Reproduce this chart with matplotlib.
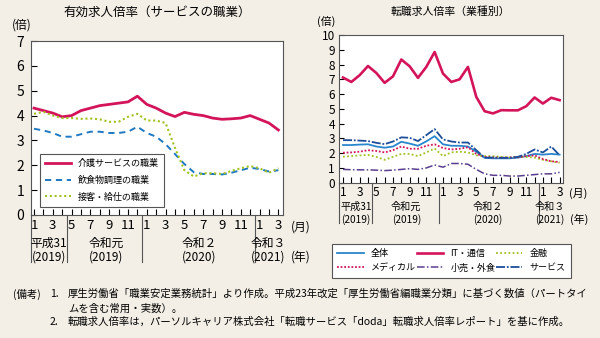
import matplotlib
matplotlib.use("Agg")
import matplotlib.pyplot as plt
import matplotlib.transforms as mtransforms

plt.rcParams['font.family'] = ['Noto Sans CJK JP', 'DejaVu Sans']

BG = '#f3efe6'

# ---------------- data ----------------
months = list(range(27))  # Jan 2019 .. Mar 2021
month_labels = ['1', '', '3', '', '5', '', '7', '', '9', '', '11', '',
                '1', '', '3', '', '5', '', '7', '', '9', '', '11', '',
                '1', '', '3']

# left: 有効求人倍率（サービスの職業）
kaigo = [4.30, 4.20, 4.10, 3.95, 4.00, 4.20, 4.30, 4.40, 4.45, 4.50, 4.55, 4.78,
         4.45, 4.30, 4.10, 3.96, 4.13, 4.05, 4.00, 3.90, 3.85, 3.87, 3.90, 4.00,
         3.85, 3.70, 3.42]
inshoku = [3.47, 3.40, 3.30, 3.15, 3.15, 3.25, 3.35, 3.35, 3.30, 3.30, 3.35, 3.55,
           3.30, 3.15, 2.85, 2.45, 2.05, 1.72, 1.65, 1.65, 1.63, 1.70, 1.80, 1.90,
           1.85, 1.75, 1.80]
sekkyaku = [4.07, 4.15, 4.00, 3.90, 3.90, 3.87, 3.88, 3.85, 3.75, 3.75, 3.95, 4.07,
            3.80, 3.80, 3.70, 2.70, 1.80, 1.55, 1.68, 1.68, 1.65, 1.77, 1.88, 1.97,
            1.88, 1.70, 1.88]
left_names = ['介護サービスの職業', '飲食物調理の職業', '接客・給仕の職業']

# right: 転職求人倍率（業種別）
zentai = [2.55, 2.55, 2.58, 2.60, 2.45, 2.37, 2.45, 2.77, 2.65, 2.50, 2.80, 3.15,
          2.60, 2.50, 2.50, 2.45, 2.10, 1.68, 1.65, 1.65, 1.65, 1.70, 1.80, 1.95,
          1.90, 1.95, 1.90]
it = [7.12, 6.82, 7.28, 7.90, 7.43, 6.76, 7.20, 8.34, 7.88, 7.10, 7.84, 8.85,
      7.39, 6.82, 7.00, 7.84, 5.81, 4.84, 4.69, 4.91, 4.90, 4.90, 5.18, 5.77,
      5.36, 5.75, 5.59]
kinyu = [1.76, 1.80, 1.85, 1.88, 1.75, 1.55, 1.75, 1.95, 1.95, 1.80, 2.05, 2.32,
         1.80, 2.05, 2.10, 2.05, 1.85, 1.80, 1.80, 1.75, 1.72, 1.75, 1.75, 1.70,
         1.55, 1.45, 1.35]
medical = [2.03, 2.05, 2.10, 2.20, 2.15, 2.05, 2.20, 2.45, 2.30, 2.30, 2.50, 2.60,
           2.35, 2.25, 2.30, 2.40, 1.95, 1.75, 1.70, 1.70, 1.70, 1.72, 1.80, 1.85,
           1.60, 1.45, 1.40]
kouri = [0.90, 0.88, 0.87, 0.87, 0.85, 0.82, 0.85, 0.90, 0.95, 0.90, 1.00, 1.20,
         1.05, 1.30, 1.30, 1.25, 0.90, 0.60, 0.50, 0.50, 0.45, 0.45, 0.50, 0.55,
         0.60, 0.60, 0.70]
service = [2.88, 2.88, 2.85, 2.82, 2.70, 2.61, 2.79, 3.07, 3.04, 2.82, 3.22, 3.63,
           2.93, 2.79, 2.72, 2.72, 2.20, 1.70, 1.70, 1.68, 1.68, 1.75, 1.95, 2.25,
           2.05, 2.45, 1.85]
right_names = ['全体', 'IT・通信', '金融', 'メディカル', '小売・外食', 'サービス']

era_top = ['平成31', '令和元', '令和２', '令和３']
era_bottom = ['(2019)', '(2019)', '(2020)', '(2021)']
separators = [3.5, 11.5, 23.5]

RED = '#d4145a'
BLUE = '#1f78c1'
GREEN = '#9fc21e'

fig = plt.figure(figsize=(6.0, 3.38), dpi=100, facecolor=BG)
W, H = 600.0, 338.0


def axes_px(x0, y0, x1, y1):
    return fig.add_axes([x0 / W, 1 - y1 / H, (x1 - x0) / W, (y1 - y0) / H])


# ---------------- left chart ----------------
axL = axes_px(31, 41, 283, 215)
axL.plot(months, kaigo, color=RED, lw=2.0, solid_joinstyle='round')
axL.plot(months, inshoku, color=BLUE, lw=1.4, dashes=(3.2, 2.4))
axL.plot(months, sekkyaku, color=GREEN, lw=1.5, linestyle=(0, (1, 1.3)))
axL.set_xlim(-0.32, 26.49)
axL.set_ylim(0, 7)
axL.set_yticks(range(8))
axL.set_xticks(months)
axL.set_xticklabels(month_labels)
axL.tick_params(axis='y', direction='in', length=4, width=0.8, labelsize=10, pad=5)
axL.tick_params(axis='x', direction='in', length=4.5, width=0.8, labelsize=9.5, pad=3)
for s in axL.spines.values():
    s.set_color('#555555')
    s.set_linewidth(0.8)
axL.set_facecolor('white')
legL = axL.legend(left_names, loc='lower left', bbox_to_anchor=(0.036, 0.046),
                  borderaxespad=0, fontsize=6.5, handlelength=2.8,
                  labelspacing=0.85, fancybox=False, edgecolor='#555555',
                  framealpha=1, borderpad=0.6, handletextpad=0.8)
legL.get_frame().set_linewidth(0.8)

trL = mtransforms.blended_transform_factory(axL.transData, axL.transAxes)
for xs in [-0.32] + separators:
    axL.plot([xs, xs], [0, -0.27], transform=trL, color='#555555', lw=0.8, clip_on=False)
era_xL = [1.6, 7.7, 17.6, 24.95]
for xe, t, b in zip(era_xL, era_top, era_bottom):
    axL.text(xe, -0.161, t, transform=trL, ha='center', va='center', fontsize=8.5)
    axL.text(xe, -0.241, b, transform=trL, ha='center', va='center', fontsize=8.5)
fig.text(301 / W, 1 - 227 / H, '(月)', ha='center', va='center', fontsize=8.5)
fig.text(301 / W, 1 - 257 / H, '(年)', ha='center', va='center', fontsize=8.5)
fig.text(22 / W, 1 - 25 / H, '(倍)', ha='center', va='center', fontsize=8.5)
fig.text(157 / W, 1 - 12 / H, '有効求人倍率（サービスの職業）', ha='center', va='center', fontsize=9)

# ---------------- right chart ----------------
axR = axes_px(339, 35, 562.5, 182.7)
lz, = axR.plot(months, zentai, color='#2a86cc', lw=1.3)
li, = axR.plot(months, it, color=RED, lw=1.9)
lk, = axR.plot(months, kinyu, color=GREEN, lw=1.3, linestyle=(0, (1, 1.3)))
lm, = axR.plot(months, medical, color=RED, lw=1.3, linestyle=(0, (1, 1)))
lr, = axR.plot(months, kouri, color='#5a3f8e', lw=1.1, linestyle=(0, (5, 1.5, 1, 1.5)))
ls, = axR.plot(months, service, color='#1d4e9a', lw=1.3, linestyle=(0, (5, 1, 1, 1)))
axR.set_xlim(-0.48, 26.35)
axR.set_ylim(0, 10)
axR.set_yticks(range(11))
axR.set_xticks(months)
axR.set_xticklabels(month_labels)
axR.tick_params(axis='y', direction='in', length=3.5, width=0.8, labelsize=8.5, pad=3)
axR.tick_params(axis='x', direction='in', length=4, width=0.8, labelsize=8.5, pad=2.5)
for s in axR.spines.values():
    s.set_color('#555555')
    s.set_linewidth(0.8)
axR.set_facecolor('white')

trR = mtransforms.blended_transform_factory(axR.transData, axR.transAxes)
for xs in [-0.48] + separators:
    axR.plot([xs, xs], [0, -0.273], transform=trR, color='#555555', lw=0.8, clip_on=False)
era_xR = [1.56, 7.6, 17.4, 24.8]
for xe, t, b in zip(era_xR, era_top, era_bottom):
    axR.text(xe, -0.165, t, transform=trR, ha='center', va='center', fontsize=7.3)
    axR.text(xe, -0.246, b, transform=trR, ha='center', va='center', fontsize=7.3)
fig.text(578 / W, 1 - 193 / H, '(月)', ha='center', va='center', fontsize=7.8)
fig.text(579 / W, 1 - 219 / H, '(年)', ha='center', va='center', fontsize=7.8)
fig.text(326 / W, 1 - 21 / H, '(倍)', ha='center', va='center', fontsize=7.8)
fig.text(450 / W, 1 - 12 / H, '転職求人倍率（業種別）', ha='center', va='center', fontsize=7.8)

handles = [lz, lm, li, lr, lk, ls]
labels = [right_names[0], right_names[3], right_names[1], right_names[4],
          right_names[2], right_names[5]]
legR = fig.legend(handles, labels, loc='lower left',
                  bbox_to_anchor=(332 / W, 1 - 278 / H, (571 - 332) / W, (278 - 236) / H),
                  mode='expand', ncol=3, fontsize=6.5, handlelength=2.9,
                  fancybox=False, edgecolor='#555555', framealpha=1,
                  borderaxespad=0, borderpad=0.6, labelspacing=0.6,
                  handletextpad=0.8, columnspacing=1.5)
legR.get_frame().set_linewidth(0.8)

# ---------------- footnote ----------------
fs = 7.45
y1, y2, y3 = 1 - 294 / H, 1 - 309 / H, 1 - 322 / H
fig.text(13 / W, y1, '(備考)', ha='left', va='center', fontsize=fs)
fig.text(50 / W, y1, '1.', ha='left', va='center', fontsize=fs)
fig.text(68 / W, y1,
         '厚生労働省「職業安定業務統計」より作成。平成23年改定「厚生労働省編職業分類」に基づく数値（パートタイ',
         ha='left', va='center', fontsize=fs)
fig.text(68 / W, y2, 'ムを含む常用・実数）。', ha='left', va='center', fontsize=fs)
fig.text(50 / W, y3, '2.', ha='left', va='center', fontsize=fs)
fig.text(68 / W, y3,
         '転職求人倍率は，パーソルキャリア株式会社「転職サービス「doda」転職求人倍率レポート」を基に作成。',
         ha='left', va='center', fontsize=fs)

fig.savefig('out.png', dpi=100, facecolor=BG)
